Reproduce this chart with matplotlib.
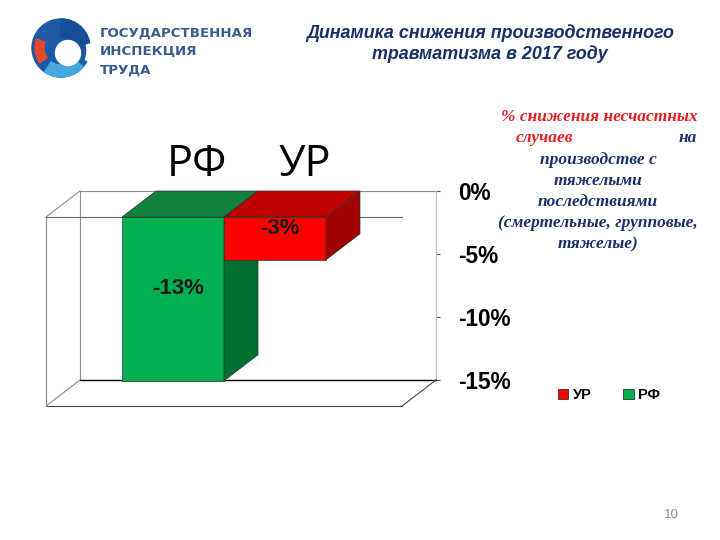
# -*- coding: utf-8 -*-
import matplotlib
matplotlib.use('Agg')
import matplotlib.pyplot as plt
from matplotlib.patches import Polygon, Circle, Wedge, Patch

# данные
regions = ['РФ', 'УР']
values = [-13.0, -3.4]
value_labels = ['-13%', '-3%']
front_colors = ['#00B050', '#FF0000']
top_colors = ['#12803E', '#C00000']
side_colors = ['#007032', '#A00000']
yticks = [0, -5, -10, -15]
ytick_labels = ['0%', '-5%', '-10%', '-15%']

W, H = 720, 540
fig = plt.figure(figsize=(7.2, 5.4), dpi=100)


def fx(x):
    return x / W


def fy(y):
    return 1 - y / H


# логотип
lax = fig.add_axes([fx(20), fy(100), 90 / W, 90 / H])
lax.set_xlim(20, 110)
lax.set_ylim(100, 10)
lax.axis('off')
c = (61, 48)
lax.add_patch(Circle(c, 29, color='#1c5aa6'))
lax.add_patch(Wedge(c, 29, 270, 360, width=18, color='#174f96'))
lax.add_patch(Wedge(c, 29, 40, 125, width=12, color='#45a8e0'))
lax.add_patch(Wedge(c, 26, 145, 200, width=9, color='#e4492c'))
lax.add_patch(Circle((68, 53), 12.5, color='white'))
lax.add_patch(Wedge((64, 51), 31, -15, 22, width=8, color='white'))

for i, line in enumerate(['ГОСУДАРСТВЕННАЯ', 'ИНСПЕКЦИЯ', 'ТРУДА']):
    fig.text(fx(100), fy(33 + i * 18.5), line, fontsize=9.6, fontweight='bold',
             color='#3a5c8f', family='DejaVu Sans', va='center', ha='left')

# заголовок
fig.text(fx(490), fy(33), 'Динамика снижения производственного', fontsize=12.9,
         fontweight='bold', fontstyle='italic', family='Liberation Sans',
         color='#17306A', ha='center', va='center')
fig.text(fx(490), fy(54), 'травматизма в 2017 году', fontsize=12.9,
         fontweight='bold', fontstyle='italic', family='Liberation Sans',
         color='#17306A', ha='center', va='center')

# основная диаграмма (псевдо-3D)
ax = fig.add_axes([fx(46), fy(406), 390 / W, 215 / H])
px_x = 102.0
px_y = 12.6
x_pos = [0, 1]
xl = -(207 - 46) / px_x
xr = (436 - 207) / px_x
dxd = 34 / px_x
dyd = 26 / px_y
ylow = -15 - dyd
ax.set_xlim(xl, xr)
ax.set_ylim(ylow, 0)
for s in ax.spines.values():
    s.set_visible(False)
ax.set_xticks([])
ax.yaxis.tick_right()
ax.set_yticks(yticks)
ax.set_yticklabels(ytick_labels, fontsize=16.3, fontweight='bold', family='Liberation Sans')
ax.tick_params(axis='y', direction='out', length=3, width=0.8, color='#555555', pad=13)

gray = '#8c8c8c'
bl = xl + dxd
lw = 0.8
ax.plot([bl, xr], [0, 0], color=gray, lw=lw, clip_on=False)
ax.plot([bl, bl], [-15, 0], color=gray, lw=lw, clip_on=False)
ax.plot([xr, xr], [-15, 0], color='#bbbbbb', lw=lw, clip_on=False)
ax.plot([bl, xr], [-15, -15], color='black', lw=1.0, clip_on=False)
ax.plot([xl, bl], [-dyd, 0], color=gray, lw=lw, clip_on=False)
ax.plot([xl, bl], [ylow, -15], color=gray, lw=lw, clip_on=False)
ax.plot([xr - dxd, xr], [ylow, -15], color='#444444', lw=lw, clip_on=False)
ax.plot([xl, xr - dxd], [ylow, ylow], color='#444444', lw=lw, clip_on=False)
ax.plot([xl, xl], [ylow, -dyd], color=gray, lw=lw, clip_on=False)
ax.plot([xl, xr - dxd], [-dyd, -dyd], color='#666666', lw=lw, clip_on=False)

for x, v, fc, tc, sc, lab in zip(x_pos, values, front_colors, top_colors,
                                  side_colors, value_labels):
    ax.bar(x - dxd, v, bottom=-dyd, width=1.0, color=fc, edgecolor='#333333',
           linewidth=0.5, clip_on=False, zorder=3)
    top = [(x - 0.5 - dxd, -dyd), (x + 0.5 - dxd, -dyd), (x + 0.5, 0), (x - 0.5, 0)]
    ax.add_patch(Polygon(top, closed=True, facecolor=tc, edgecolor='#333333',
                         linewidth=0.5, clip_on=False, zorder=3))
    side = [(x + 0.5 - dxd, -dyd), (x + 0.5, 0), (x + 0.5, v), (x + 0.5 - dxd, v - dyd)]
    ax.add_patch(Polygon(side, closed=True, facecolor=sc, edgecolor='#333333',
                         linewidth=0.5, clip_on=False, zorder=3))
    ax.text(x - dxd + 0.05, v / 2 - dyd + 0.8, lab, fontsize=16, fontweight='bold',
            family='Liberation Sans', color='#1a1a1a', ha='center', va='center', zorder=5)
    ax.text(x - 0.1 + 0.06 * x, 2.1, regions[x], fontsize=31,
            family='Open Sans', color='black', ha='center', va='center', clip_on=False)

# легенда
handles = [Patch(facecolor=front_colors[1], edgecolor='#333333', linewidth=0.6),
           Patch(facecolor=front_colors[0], edgecolor='#333333', linewidth=0.6)]
fig.legend(handles, [regions[1], regions[0]], loc='center',
           bbox_to_anchor=(fx(609), fy(395)), ncol=2, frameon=False,
           handlelength=0.7, handleheight=0.7, handletextpad=0.3, columnspacing=2.2,
           prop={'family': 'Liberation Sans', 'weight': 'bold', 'size': 10.5})

# пояснение справа
red = '#E81E1E'
blue = '#1B2F6B'
tkw = dict(fontsize=12.5, fontweight='bold', fontstyle='italic',
           family='Liberation Serif', ha='center', va='center')
fig.text(fx(599), fy(117), '% снижения несчастных', color=red, **tkw)
fig.text(fx(545), fy(138), 'случаев', color=red, **tkw)
fig.text(fx(688), fy(138), 'на', color=blue, **tkw)
lines = ['производстве с', 'тяжелыми', 'последствиями',
         '(смертельные, групповые,', 'тяжелые)']
for i, t in enumerate(lines):
    fig.text(fx(598), fy(160 + i * 21), t, color=blue, **tkw)

# номер слайда
fig.text(fx(671), fy(515), '10', fontsize=9.5, color='#8c8c8c',
         family='Liberation Sans', ha='center', va='center')

fig.savefig('out.png', dpi=100)
